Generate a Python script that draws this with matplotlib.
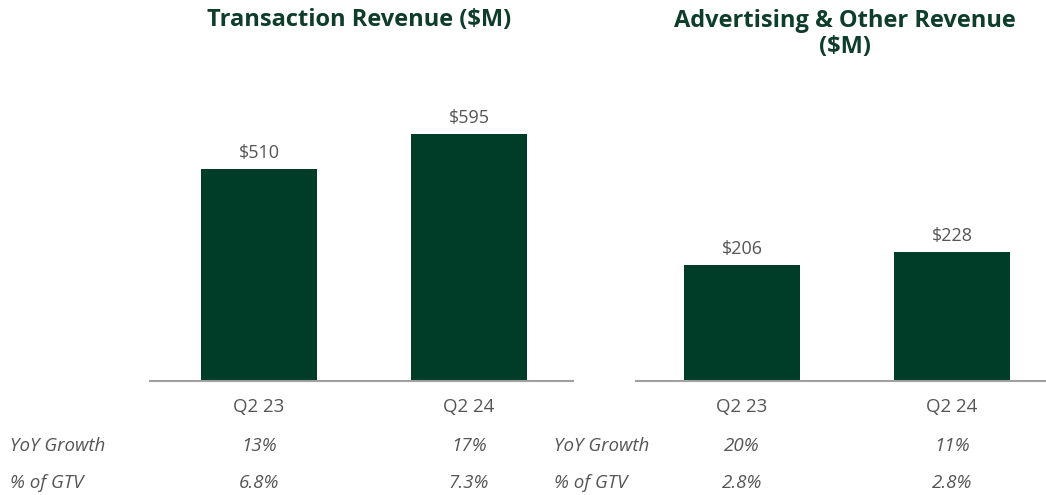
import matplotlib.pyplot as plt

# Data
quarters = ["Q2 23", "Q2 24"]
transaction_rev = [510, 595]
advertising_rev = [206, 228]
yoy_transaction = ["13%", "17%"]
yoy_advertising = ["20%", "11%"]
gtv_transaction = ["6.8%", "7.3%"]
gtv_advertising = ["2.8%", "2.8%"]

W, H = 1046, 495
green = "#003d29"
title_col = "#0f3d2c"
text_col = "#555555"

plt.rcParams['font.family'] = ['Open Sans', 'DejaVu Sans']

fig = plt.figure(figsize=(W / 100, H / 100), dpi=100)


def px_axes(x0, x1, y_base):
    return fig.add_axes([x0 / W, (H - y_base) / H, (x1 - x0) / W, y_base / H])


def draw_panel(ax, values, ymax, xlim, yoy, gtv):
    x = range(len(values))
    ax.bar(x, values, width=0.552, color=green)
    ax.set_xlim(*xlim)
    ax.set_ylim(0, ymax)
    for s in ["top", "right", "left"]:
        ax.spines[s].set_visible(False)
    ax.spines["bottom"].set_color("#a0a0a0")
    ax.spines["bottom"].set_linewidth(1.5)
    ax.set_yticks([])
    ax.set_xticks(list(x))
    ax.set_xticklabels(quarters, fontsize=13.5, color=text_col)
    ax.tick_params(axis="x", length=0, pad=12)
    for i, v in enumerate(values):
        ax.annotate(f"${v}", xy=(i, v), xytext=(0, 7), textcoords="offset pixels",
                    ha="center", va="bottom", fontsize=13, color=text_col)
        ax.annotate(yoy[i], xy=(i, 0), xycoords=("data", "axes fraction"),
                    xytext=(0, -65), textcoords="offset pixels",
                    ha="center", va="center", fontsize=13.5, style="italic", color=text_col)
        ax.annotate(gtv[i], xy=(i, 0), xycoords=("data", "axes fraction"),
                    xytext=(0, -102), textcoords="offset pixels",
                    ha="center", va="center", fontsize=13.5, style="italic", color=text_col)


ax1 = px_axes(150, 573, 381)
draw_panel(ax1, transaction_rev, 381 / 0.415, (-0.519, 1.495), yoy_transaction, gtv_transaction)

ax2 = px_axes(636, 1046, 381)
draw_panel(ax2, advertising_rev, 381 / 0.565, (-0.505, 1.448), yoy_advertising, gtv_advertising)

# Titles
fig.text(359 / W, 1 - 20 / H, "Transaction Revenue ($M)", ha="center", va="center",
         fontsize=17, fontweight="bold", color=title_col)
fig.text(845 / W, 1 - 34 / H, "Advertising & Other Revenue\n($M)", ha="center", va="center",
         fontsize=17, fontweight="bold", color=title_col, linespacing=1.15)

# Row labels
for xl in (10, 554):
    fig.text(xl / W, 1 - 446 / H, "YoY Growth", ha="left", va="center",
             fontsize=13.5, style="italic", color=text_col)
    fig.text(xl / W, 1 - 483 / H, "% of GTV", ha="left", va="center",
             fontsize=13.5, style="italic", color=text_col)

fig.savefig("out.png", dpi=100)
